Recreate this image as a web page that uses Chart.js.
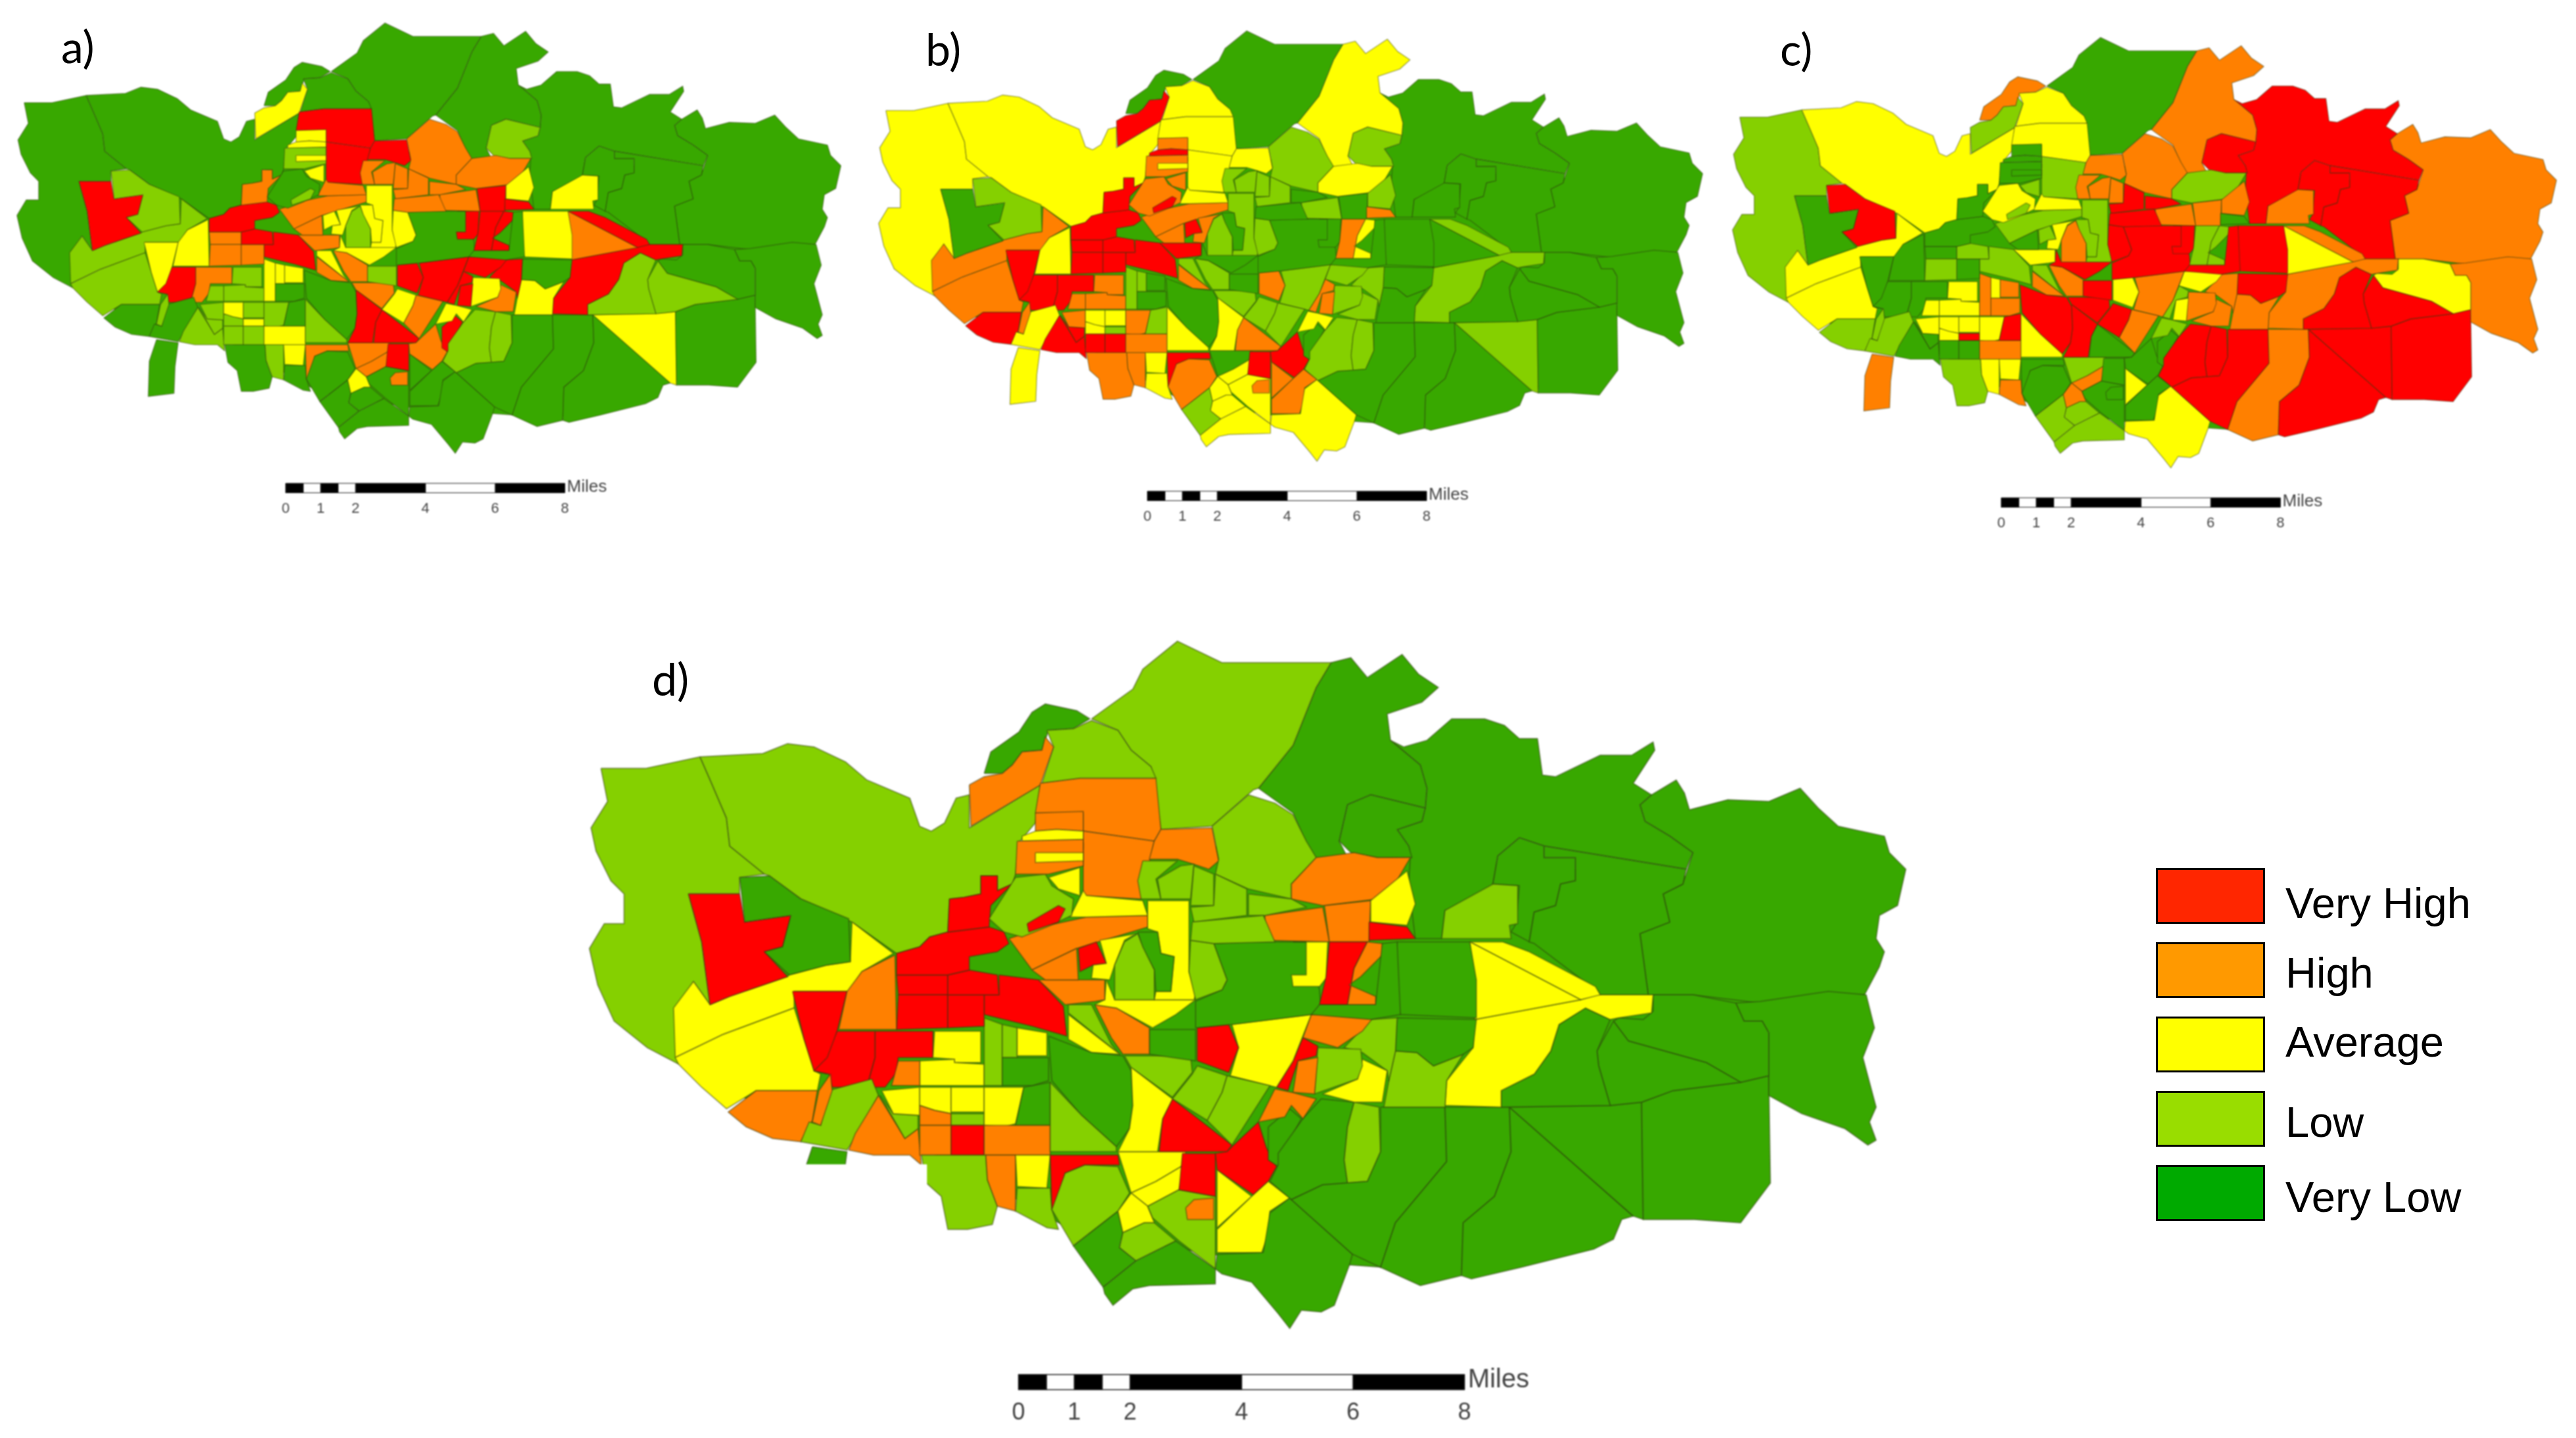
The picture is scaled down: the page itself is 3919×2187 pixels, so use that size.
<!DOCTYPE html>
<html>
<head>
<meta charset="utf-8">
<title>Four maps</title>
<script src="https://cdn.jsdelivr.net/npm/chart.js@4"></script>
<style>
  html, body { margin: 0; background: #fff; width: 3919px; height: 2187px; overflow: hidden; }
  canvas { position: absolute; }
  .tag { position: absolute; font-family: Lato, sans-serif; font-size: 68px; line-height: 68px; color: #000; }
  .swatch { position: absolute; left: 3280px; width: 160px; height: 79px; border: 3px solid #000; }
  .name { position: absolute; left: 3477px; font-family: "Liberation Sans", sans-serif; font-size: 65px; line-height: 65px; color: #000; }
</style>
</head>
<body>
<script>
// Legend
const levelNames = ["Very High", "High", "Average", "Low", "Very Low"];
const legendColors = ["#ff2600", "#ff9900", "#ffff00", "#99dd00", "#00aa00"];
const legendBoxTops = [1320, 1433, 1546, 1659, 1772];
const legendTextTops = [1341, 1447, 1552, 1674, 1788];

// Map fill per class: 0 very low ... 4 very high, 5 is the white paper patch
const classColors = ["#38a800", "#85d000", "#ffff00", "#ff8000", "#ff0000", "#ffffff"];

// Scale bar
const barBreaks = [0, 0.5, 1, 1.5, 2, 4, 6, 8];
const barTicks = [0, 1, 2, 4, 6, 8];

// Census tract outlines, flat x,y lists in map grid units (33.75 units to the mile).
// Later tracts draw on top of earlier ones.
const tractShapes = [
  [460,560,600,530,700,510,860,520,1020,530,1070,620,1070,700,990,735,880,770,740,760,650,745,560,695,490,680,440,660],
  [364,465,391,465,424,458,431,474,440,495,442,512,463,529,448,531,448,541,417,541,425,570,430,608,420,594,410,612,411,644,392,634,372,618,362,596,357,574,366,559,378,559,378,541,370,533,361,515,358,501,368,485],
  [424,458,462,456,477,450,493,452,512,461,525,472,551,483,557,500,564,503,572,498,579,483,587,481,587,501,630,475,627,498,617,510,615,529,613,535,604,539,604,530,594,530,594,541,584,543,575,544,574,564,563,567,557,573,543,577,516,558,485,544,466,530,463,529,442,512,440,495,431,474],
  [1000,481,1015,472,1020,480,1023,490,1046,484,1071,485,1090,477,1101,489,1113,500,1141,506,1144,516,1154,526,1149,548,1138,554,1136,568,1141,576,1138,585,1129,602,1098,602,1066,607,1025,602,998,602,993,565,1011,558,1007,541,1019,535,1025,516,1011,506,996,497,993,487],
  [850,452,864,448,879,435,899,435,911,439,920,447,931,447,934,469,942,470,969,457,988,457,1001,449,1002,454,989,474,1000,481,993,487,996,497,1011,506,1025,516,1021,526,935,512,920,507,907,518,904,535,894,545,875,551,873,568,857,568,853,535,854,519,853,512,846,502,861,497,863,489,864,477,860,463,842,448],
  [806,401,818,398,828,410,849,396,859,408,871,416,861,425,840,432,842,448,860,463,864,477,863,489,830,481,816,487,811,509,816,519,795,520,783,492,762,477,783,451,797,416],
  [661,435,686,417,692,405,713,388,740,401,806,401,797,416,783,451,762,477,759,478,734,500,703,502,699,474,697,464,685,454,677,442],
  [596,468,600,455,617,443,625,431,633,426,652,430,660,435,650,441,635,442,631,454,619,455,613,463,607,468],
  [634,442,650,441,661,436,677,442,685,454,697,464,700,471,654,471,631,474,638,452],
  [587,475,596,470,607,468,613,463,619,455,631,454,633,446,638,452,630,475,588,500],
  [630,474,654,471,700,471,703,502,699,509,656,503,656,492,627,492],
  [656,503,699,509,691,544,656,542],
  [703,502,734,501,738,521,732,526,723,523,713,520,696,520,699,509],
  [756,481,772,486,783,493,791,509,797,519,782,535,782,544,756,538,736,529,738,520,734,500],
  [816,487,830,481,863,489,861,497,846,502,853,512,855,519,834,519,818,516,811,509],
  [920,507,935,512,935,519,954,519,954,533,945,535,942,548,929,552,926,570,915,564,918,559,920,536,904,535,907,518],
  [875,551,904,535,919,536,919,559,914,560,915,568,873,568],
  [935,512,1021,526,1019,535,1007,541,1011,558,993,565,998,602,969,602,966,599,929,571,926,570,929,552,942,548,945,535,954,533,954,519,935,519],
  [516,558,541,577,522,588,514,600,481,600,481,610,438,626,409,640,408,610,420,594,430,608,442,603,477,591,478,590,501,584,515,582],
  [409,640,438,626,481,610,487,629,493,648,497,650,495,660,458,660,440,671,425,658,411,644],
  [417,541,448,541,451,558,479,554,474,573,463,576,477,591,442,603,430,608,425,570],
  [448,531,466,530,485,544,514,556,515,582,501,584,478,590,463,576,474,573,479,554,451,558],
  [458,660,495,660,492,678,485,691,468,689,452,682,441,673],
  [480,600,513,600,507,624,501,650,493,648,487,629],
  [522,588,542,578,543,623,508,623,513,600],
  [507,624,530,624,530,640,525,658,504,658,502,650,493,648,501,640],
  [530,624,565,624,565,640,544,640,543,649,536,658,525,658,530,640],
  [485,691,490,679,497,681,502,660,528,653,532,663,517,690,513,696],
  [492,694,513,697,510,720,509,746,484,749,485,715],
  [532,663,548,689,556,683,558,705,551,699,529,699,514,696,518,686],
  [533,663,541,674,556,675,556,683,548,689],
  [496,660,503,650,504,660,497,681,492,679],
  [534,660,557,658,557,675,541,674],
  [557,658,576,658,576,674,566,672,557,669],
  [557,669,566,672,576,674,576,681,557,681],
  [576,658,596,658,596,673,576,673],
  [576,674,596,674,596,681,576,681],
  [596,658,620,658,615,680,608,682,596,681],
  [620,658,636,655,636,681,615,681],
  [557,681,576,681,576,699,557,699],
  [576,681,596,681,596,699,576,699],
  [596,681,636,681,636,699,596,699],
  [558,699,597,699,598,714,604,730,601,741,586,744,574,744,570,724,561,716],
  [597,699,615,699,615,733,604,730,598,714],
  [615,699,636,699,634,719,616,718],
  [616,719,636,719,637,732,641,744,634,743,615,733],
  [636,699,677,699,678,705,657,705,645,710,640,730,637,732],
  [637,732,645,710,657,705,677,706,684,722,677,733,650,754],
  [677,733,680,746,678,755,688,763,668,779,650,754],
  [677,697,718,697,717,705,700,715,685,722],
  [717,705,714,720,695,730,685,722,700,715],
  [677,733,685,722,695,730,699,740,693,740,680,746],
  [680,746,693,740,699,740,712,751,688,763,678,755],
  [695,730,714,720,736,724,736,768,714,751,698,737],
  [718,731,723,726,735,725,735,738,719,738],
  [668,779,688,763,712,751,736,768,736,777,696,778,686,780,674,790,669,783],
  [716,698,736,698,736,724,714,720],
  [710,665,746,693,743,697,702,697,704,677],
  [746,694,762,679,767,695,773,706,768,715,759,723,737,708,736,698,743,697],
  [737,708,758,724,737,743],
  [768,715,781,725,769,733,768,747,764,758,737,758,737,744,758,724],
  [737,759,765,758,769,734,781,725,819,759,817,766,808,790,800,794,788,793,781,804,774,795,758,776,740,771,736,768],
  [768,682,781,671,788,677,776,699,774,706,768,702],
  [789,677,800,665,820,667,816,682,814,702,816,716,801,717,782,726,769,715,774,705,774,698],
  [820,667,835,670,836,697,828,715,816,716,814,702,816,682],
  [836,670,875,670,876,703,845,740,836,767,819,759,782,726,801,717,828,715,836,697],
  [875,670,914,670,915,697,905,724,886,740,885,772,860,778,836,767,845,740,876,703],
  [914,670,989,736,982,738,977,750,965,756,921,767,891,774,885,772,886,740,905,724,915,697],
  [914,670,975,669,994,667,995,738,989,736],
  [994,667,1013,660,1054,655,1071,651,1072,716,1054,740,1026,738,995,738],
  [1051,607,1056,618,1067,618,1071,625,1071,663,1091,674,1117,683,1131,693,1136,690,1132,679,1136,670,1128,640,1135,622,1130,602,1107,600,1066,606],
  [977,618,986,630,1033,643,1054,655,1071,651,1071,625,1067,618,1056,618,1051,607,1025,602,1001,602,1001,612,995,617,980,616],
  [967,636,977,618,986,630,1033,643,1054,655,1013,660,994,667,975,669,968,645],
  [909,670,975,669,968,645,967,636,975,617,960,610,944,620,939,636,929,650,909,660],
  [875,669,909,670,909,660,929,650,939,636,944,620,960,610,975,617,980,616,1000,613,1001,602,967,602,957,605,893,617,892,634,876,654],
  [890,570,910,570,926,576,966,597,969,602,957,605],
  [890,570,957,605,893,617],
  [846,570,890,570,894,593,894,616,848,614,844,596],
  [845,636,858,637,868,645,886,638,876,654,875,670,838,670,841,654],
  [846,616,894,617,892,634,886,638,868,645,858,637,845,636],
  [830,617,846,616,845,636,841,654,840,648,825,637,814,634],
  [825,641,840,648,837,667,820,667,801,662,822,653],
  [798,634,824,635,825,645,822,653,796,662],
  [794,614,833,614,825,624,810,634,789,628],
  [789,628,798,633,797,639,786,642,780,660,773,658,783,642],
  [786,642,798,640,796,662,783,661],
  [772,659,782,661,797,665,789,677,782,669,778,676,762,679],
  [746,620,794,614,783,642,773,658,769,657,745,651,750,634],
  [743,651,769,657,746,693,731,678,740,661],
  [725,645,743,651,740,661,731,678,710,665,722,650],
  [681,639,721,639,722,649,710,664,685,646],
  [725,622,744,620,750,634,744,649,725,642],
  [696,623,724,623,724,642,696,638],
  [663,608,676,610,696,622,696,638,680,638,673,628],
  [647,608,661,608,673,632,678,638,647,613],
  [647,614,678,638,661,637,647,629],
  [670,593,675,605,724,605,712,614,698,622,676,610,663,608,669,605],
  [635,627,661,637,680,639,685,648,686,669,684,683,676,694,655,675,637,654],
  [636,655,655,675,676,694,676,697,636,697],
  [685,646,710,665,704,677,701,697,677,697,684,683,686,669],
  [566,624,594,624,594,643,578,643,578,641,565,640],
  [557,642,578,641,578,643,596,644,596,657,557,657],
  [596,616,607,620,607,657,596,657],
  [607,620,616,622,616,640,607,640],
  [616,622,634,625,634,639,616,639],
  [607,640,635,640,635,654,625,657,607,657],
  [605,590,629,593,644,609,646,627,625,621,596,614,596,602,605,602],
  [543,590,574,590,574,602,544,602],
  [544,602,574,602,574,622,543,623],
  [574,602,596,602,596,621,574,622],
  [574,590,587,587,604,590,605,602,574,602],
  [574,564,599,561,608,564,611,571,604,576,587,579,587,587,574,590,543,590,543,577,557,573,563,567],
  [575,544,584,543,594,541,594,530,604,530,604,539,613,535,600,548,599,561,574,564],
  [629,593,669,593,669,605,663,606,645,608],
  [611,568,635,560,658,555,695,554,695,561,665,570,652,574,625,587],
  [625,587,652,574,653,593,633,593],
  [653,574,664,570,670,583,662,584,654,588],
  [666,569,688,565,681,569,675,584,672,593,661,592,662,584,670,583],
  [656,539,658,542,692,545,695,554,658,555,648,555],
  [599,556,615,531,633,529,637,536,650,544,649,554,634,561,619,567,608,564],
  [622,559,641,548,645,550,641,558,623,564],
  [635,531,654,525,654,542,641,538],
  [627,492,656,491,656,503,640,502,627,503],
  [627,503,640,502,656,503,656,508,619,509,619,506],
  [617,510,656,510,656,514,617,515],
  [616,509,656,508,656,524,635,529,615,529],
  [627,516,656,516,656,521,627,522],
  [766,554,801,549,805,570,766,569],
  [802,548,830,545,829,570,805,570],
  [797,519,820,516,834,519,854,519,844,536,834,544,801,548,782,544,782,535],
  [830,545,852,527,857,547,852,560,830,558],
  [829,558,852,561,857,568,829,569],
  [756,541,782,544,791,549,766,554,756,554],
  [692,521,713,521,700,532,703,544,691,544,689,533],
  [701,532,715,524,723,523,721,544,703,544],
  [723,524,735,529,735,548,721,548],
  [736,529,755,538,755,554,723,558,721,549,735,548],
  [695,545,720,545,720,588,724,602,723,605,699,605,700,600,709,600,711,579,703,577,701,564,695,562],
  [689,564,701,564,703,577,711,579,709,600,700,600,699,587,692,574],
  [681,570,689,565,692,573,699,587,699,605,675,605,675,584],
  [735,571,756,570,791,570,799,599,800,613,794,614,746,620,724,622,724,606,740,599,743,593],
  [721,569,735,571,743,593,740,599,724,605,720,588],
  [722,558,765,554,772,570,735,571,721,569],
  [783,570,804,570,803,592,799,597,783,597,782,590,791,590,791,570],
  [805,570,828,570,820,586,816,608,799,608,803,591],
  [828,570,837,571,837,578,824,591,817,596,833,603,833,608,816,608,820,586],
  [799,608,833,608,837,571,846,570,848,614,830,617,794,614],
  [544,642,557,642,557,657,540,657],
  [480,705,561,705,561,760,480,760]
];

// Class of every tract in each panel, same order as tractShapes. null leaves the tract out.
const panelA = [0, 0,0,0,0,0,0,0,0,2,4, 4,4,3,1,0,2,0,1,1,4, 1,0,2,2,4,3,0,0,1,1, 1,1,2,1,1,2,1,0,1,1,
  2,0,1,2,0,3,0,0,3,3, 2,0,0,3,0,4,4,3,0,0, 0,4,1,1,0,0,0,2,0,0, 0,1,1,4,4,3,2,2,0,4,
  3,2,4,4,4,2,4,3,2,3, 4,1,3,2,3,2,0,1,4,1, 1,2,2,2,0,4,3,3,3,4, 4,3,3,3,3,2,2,3,0,1,
  2,2,2,2,1,2,3,4,3,2, 4,3,3,3,3,3,2,2,1,0, 2,3,4,4,4,0,1,null];
const panelB = [0, 2,2,0,0,2,0,0,2,4,2, 2,2,1,1,0,0,0,3,3,0, 1,4,4,2,4,4,2,2,4,4, 3,3,2,2,2,1,3,1,4,4,
  3,3,3,2,2,4,3,1,0,2, 2,2,2,3,2,4,3,4,3,3, 2,0,1,1,0,0,0,1,0,0, 0,0,0,1,1,0,0,0,0,1,
  1,1,1,3,3,2,1,1,1,1, 3,0,1,1,3,0,0,2,2,3, 3,1,1,0,0,4,4,4,4,4, 4,4,4,3,3,4,3,2,3,4,
  3,3,4,2,3,2,1,0,2,1, 3,0,1,1,1,1,1,0,1,0, 1,0,0,3,2,0,3,null];
const panelC = [0, 1,2,3,4,3,0,3,2,1,2, 1,3,3,4,4,3,4,2,2,0, 4,1,0,0,0,0,1,3,0,0, 1,2,2,2,2,4,2,4,0,0,
  3,1,2,2,3,0,0,1,1,3, 3,1,0,0,1,0,0,0,2,0, 2,0,4,4,4,3,4,4,4,3, 2,4,4,3,3,2,4,3,4,3,
  3,3,2,1,2,1,3,3,4,4, 2,4,3,1,3,4,4,2,4,2, 2,3,2,3,3,1,0,1,0,1, 0,0,2,1,0,1,2,2,2,1,
  1,0,0,0,0,0,3,3,1,3, 0,4,3,3,3,4,1,1,3,4, 4,4,4,1,1,4,2,null];
const panelD = [0, 1,1,0,0,0,1,0,1,3,3, 3,3,1,0,0,1,0,2,2,4, 0,3,4,3,4,4,1,0,3,1, 3,2,2,3,2,1,2,0,3,4,
  3,1,3,2,1,4,1,0,2,2, 2,1,1,3,0,4,4,4,2,2, 0,0,0,1,0,0,0,0,0,0, 0,0,0,2,2,2,0,1,0,1,
  2,1,3,4,3,3,2,1,1,1, 4,0,3,1,2,2,0,1,2,2, 2,1,1,2,0,4,4,4,4,4, 4,4,3,3,3,4,2,2,1,4,
  2,3,2,3,3,2,3,3,3,2, 4,1,1,1,1,1,2,0,1,0, 1,1,2,4,3,0,3,5];

// Panel placement in page pixels. unit = page pixels per mile.
const panelNames = ["a)", "b)", "c)", "d)"];
const panelClasses = [panelA, panelB, panelC, panelD];
const panelLeft = [10, 1321, 2620, 871];
const panelTop = [27, 39, 49, 960];
const panelUnit = [53.1, 53.1, 53.1, 84.8];
const panelGridX = [617, 617, 617, 616.8];
const panelGridY = [843, 843, 843, 842];
const tagLeft = [93, 1408, 2708, 992];
const tagTop = [36, 40, 40, 998];

const GRID_PER_MILE = 33.75;
const X_MIN = -8, X_MAX = 16.3, Y_MIN = 0, Y_MAX = 13.63;

function shapeToMiles(shape, p) {
  const points = [];
  for (let i = 0; i < shape.length; i += 2) {
    points.push({ x: (shape[i] - panelGridX[p]) / GRID_PER_MILE, y: (panelGridY[p] - shape[i + 1]) / GRID_PER_MILE });
  }
  points.push(points[0]);
  return points;
}

function polygonDataset(points, fillColor, lineColor, lineWidth) {
  return {
    data: points,
    showLine: true,
    fill: "shape",
    backgroundColor: fillColor,
    borderColor: lineColor,
    borderWidth: lineWidth,
    borderJoinStyle: "round",
    pointRadius: 0,
    tension: 0,
    clip: false
  };
}

// "Miles" sits to the right of the bar
const milesLabel = {
  id: "milesLabel",
  afterDraw(chart) {
    const ctx = chart.ctx;
    const size = chart.options.plugins.milesLabel.size;
    ctx.save();
    ctx.fillStyle = "#444";
    ctx.font = size + "px 'Liberation Sans'";
    ctx.textBaseline = "middle";
    ctx.fillText("Miles", chart.scales.x.getPixelForValue(8.06), chart.scales.y.getPixelForValue(0.2));
    ctx.restore();
  }
};

function drawPanel(p) {
  const unit = panelUnit[p];
  const big = p === 3;
  const band = Math.round(unit * 0.72);
  const lineWidth = big ? 2 : 1.4;
  const datasets = [];

  // scale bar first so that it is on top
  for (let i = 0; i < barBreaks.length - 1; i++) {
    const a = barBreaks[i], b = barBreaks[i + 1];
    const box = [{ x: a, y: 0.03 }, { x: b, y: 0.03 }, { x: b, y: 0.3 }, { x: a, y: 0.3 }, { x: a, y: 0.03 }];
    datasets.push(polygonDataset(box, i % 2 ? "#ffffff" : "#000000", "#222", big ? 1.5 : 1));
  }

  // first dataset ends up on top, so walk the tracts backwards
  for (let t = tractShapes.length - 1; t >= 0; t--) {
    const level = panelClasses[p][t];
    if (level === null || level === undefined) continue;
    const edge = level === 5 ? "#ffffff" : "rgba(45,55,15,0.45)";
    datasets.push(polygonDataset(shapeToMiles(tractShapes[t], p), classColors[level], edge, lineWidth));
  }

  const canvas = document.createElement("canvas");
  canvas.width = Math.round((X_MAX - X_MIN) * unit);
  canvas.height = Math.round((Y_MAX - Y_MIN) * unit) + band;
  canvas.style.left = panelLeft[p] + "px";
  canvas.style.top = panelTop[p] + "px";
  canvas.style.width = canvas.width + "px";
  canvas.style.height = canvas.height + "px";
  canvas.style.filter = big ? "blur(0.9px)" : "blur(1.2px)";
  document.body.appendChild(canvas);

  new Chart(canvas.getContext("2d"), {
    type: "scatter",
    data: { datasets },
    plugins: [milesLabel],
    options: {
      responsive: false,
      animation: false,
      devicePixelRatio: 1,
      layout: { padding: 0 },
      plugins: {
        legend: { display: false },
        tooltip: { enabled: false },
        milesLabel: { size: big ? 40 : 26 }
      },
      scales: {
        x: {
          type: "linear",
          min: X_MIN,
          max: X_MAX,
          grid: { display: false },
          border: { display: false },
          afterBuildTicks(scale) { scale.ticks = barTicks.map(v => ({ value: v })); },
          afterFit(scale) { scale.height = band; },
          ticks: {
            autoSkip: false,
            maxRotation: 0,
            padding: big ? 3 : 2,
            color: "#444",
            font: { family: "Liberation Sans", size: big ? 36 : 22 },
            callback: v => String(v)
          }
        },
        y: { type: "linear", min: Y_MIN, max: Y_MAX, display: false }
      }
    }
  });

  const tag = document.createElement("div");
  tag.className = "tag";
  tag.textContent = panelNames[p];
  tag.style.left = tagLeft[p] + "px";
  tag.style.top = tagTop[p] + "px";
  document.body.appendChild(tag);
}

function drawLegend() {
  levelNames.forEach((name, i) => {
    const box = document.createElement("div");
    box.className = "swatch";
    box.style.top = legendBoxTops[i] + "px";
    box.style.background = legendColors[i];
    document.body.appendChild(box);
    const label = document.createElement("div");
    label.className = "name";
    label.textContent = name;
    label.style.top = legendTextTops[i] + "px";
    document.body.appendChild(label);
  });
}

panelNames.forEach((name, p) => drawPanel(p));
drawLegend();
</script>
</body>
</html>
